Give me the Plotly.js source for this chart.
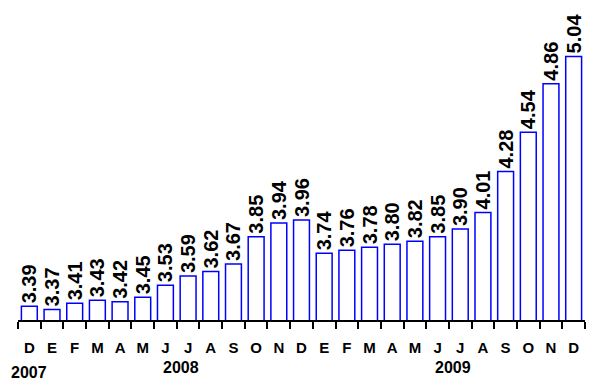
<!DOCTYPE html>
<html><head><meta charset="utf-8">
<script src="https://cdn.plot.ly/plotly-3.0.1.min.js"></script>
<style>html,body{margin:0;padding:0;background:#fff}#c{width:591px;height:383px}</style>
</head><body><div id="c"></div>
<script>
const months = ["D","E","F","M","A","M","J","J","A","S","O","N","D","E","F","M","A","M","J","J","A","S","O","N","D"];
const values = [3.39,3.37,3.41,3.43,3.42,3.45,3.53,3.59,3.62,3.67,3.85,3.94,3.96,3.74,3.76,3.78,3.80,3.82,3.85,3.90,4.01,4.28,4.54,4.86,5.04];
const years = ["2007","2008","2009"];
const yearPos = [0, 6.7, 18.7];
const yearY = [-0.168, -0.153, -0.153];

const idx = months.map((m,i)=>i);
const font = "Arial, 'Liberation Sans', sans-serif";

const trace = {
  type: 'bar', x: idx, y: values,
  marker: {color: '#ffffff', line: {color: '#0000ff', width: 1.5}},
  text: values.map(v=>v.toFixed(2)), textposition: 'outside', textangle: -90,
  constraintext: 'none', cliponaxis: false,
  textfont: {family: font, size: 20, color: '#000', weight: 'bold'},
  hoverinfo: 'none'
};

const layout = {
  width: 591, height: 383,
  margin: {l: 18, r: 6, t: 10, b: 63},
  paper_bgcolor: '#fff', plot_bgcolor: '#fff',
  showlegend: false, bargap: 0.3,
  xaxis: {
    type: 'linear', range: [-0.5, 24.5], fixedrange: true,
    tickmode: 'array', tickvals: idx, ticktext: months,
    ticks: '', showgrid: false, zeroline: false,
    showline: true, linecolor: '#000', linewidth: 2,
    ticklabelstandoff: 13,
    tickfont: {family: font, size: 15, color: '#000', weight: 'bold'},
    minor: {tickmode: 'linear', tick0: -0.5, dtick: 1, ticks: 'outside', ticklen: 7, tickwidth: 2, tickcolor: '#000', showgrid: false}
  },
  yaxis: {range: [3.3, 3.3 + 310/151.5], visible: false, fixedrange: true},
  annotations: years.map((t,i)=>({
    text: t, x: yearPos[i], xref: 'x', y: yearY[i], yref: 'paper',
    showarrow: false, xanchor: 'center', yanchor: 'middle',
    font: {family: font, size: 16, color: '#000', weight: 'bold'}
  }))
};
Plotly.newPlot('c', [trace], layout, {staticPlot: true});
</script></body></html>
